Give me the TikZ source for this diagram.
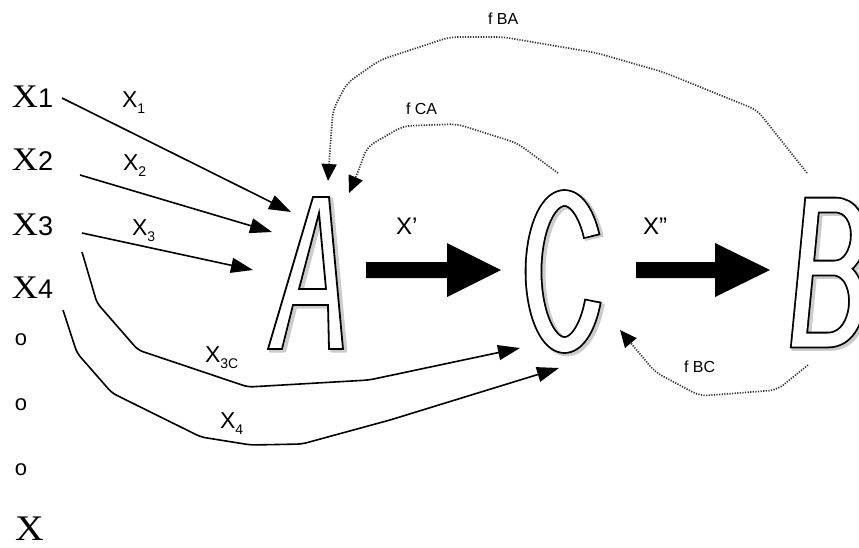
\documentclass[tikz,border=0pt]{standalone}
\usepackage{fontspec}
\setmainfont{Liberation Sans}
\newfontfamily\serifX[FakeStretch=1.1]{Liberation Serif}
\usetikzlibrary{arrows.meta,calc}
\newcommand\bigXlbl[1]{{\fontsize{33pt}{33pt}\selectfont\serifX X}{\fontsize{27pt}{27pt}\selectfont #1}}
\newcommand\subXlbl[1]{X\raisebox{-6pt}{\fontsize{14pt}{14pt}\selectfont #1}}
\begin{document}
\begin{tikzpicture}[x=1pt,y=-1pt,
  every node/.style={inner sep=0pt,outer sep=0pt},
  lbl/.style={anchor=base west,font=\fontsize{23pt}{23pt}\selectfont},
  plbl/.style={anchor=base west,font=\fontsize{24pt}{24pt}\selectfont},
  flbl/.style={anchor=base west,font=\fontsize{16pt}{16pt}\selectfont},
  bigl/.style={anchor=base west},
  dotl/.style={anchor=center,font=\fontsize{22pt}{22pt}\selectfont},
  arr/.style={line width=1.6pt,line join=round,rounded corners=5pt,-{Triangle[length=22pt,width=15pt]}},
  fb/.style={black!80,line width=1.7pt,dash pattern=on 1.2pt off 1.4pt,rounded corners=8pt,-{Triangle[length=17pt,width=15pt,color=black,fill=black]}},
  shad/.style={gray!40,line join=round},
  outl/.style={line width=1.8pt,line join=miter},
]
\useasboundingbox (0,0) rectangle (859,547);

% ---------- left labels
\node[bigl] (x1) at (12,107) {\bigXlbl{1}};
\node[bigl] (x2) at (12,170) {\bigXlbl{2}};
\node[bigl] (x3) at (12,235) {\bigXlbl{3}};
\node[bigl] (x4) at (12,298) {\bigXlbl{4}};
\node[dotl] (d1) at (21,340) {o};
\node[dotl] (d2) at (21,405) {o};
\node[dotl] (d3) at (21,470) {o};
\node[bigl] (xn) at (15,540) {\fontsize{36pt}{36pt}\selectfont\serifX X};

% ---------- letter geometry
\coordinate (Cc) at (564.5,271.5);

% shadows
\begin{scope}[shift={(2.5,1.8)}]
  \draw[shad,line width=3.5pt] (268,349) -- (313,197) -- (329,197) -- (343,349) -- (329,349) -- (328,305) -- (293,305) -- (282,349) -- cycle
        (319,213) -- (326,289) -- (299,289) -- cycle;
  \draw[shad,line width=19pt] plot[domain=28:337,samples=90,variable=\t] ({564.5+31*cos(\t)},{271.5-73.5*sin(\t)});
  \draw[shad,line width=18pt,line join=miter] (806,268) -- (812,205) -- (835,205) .. controls (868,205) and (864,268) .. (835,268) -- (806,268) -- (799,340) -- (828,340) .. controls (864,340) and (866,268) .. (833,268);
\end{scope}

% A
\draw[outl,fill=white,even odd rule] (268,349) -- (313,197) -- (329,197) -- (343,349) -- (329,349) -- (328,305) -- (293,305) -- (282,349) -- cycle
      (319,213) -- (326,289) -- (299,289) -- cycle;
\node (A) at (305,273) {};
% C
\draw[line width=17.6pt] plot[domain=28:337,samples=90,variable=\t] ({564.5+31*cos(\t)},{271.5-73.5*sin(\t)});
\draw[white,line width=14pt] plot[domain=29.5:335.5,samples=90,variable=\t] ({564.5+31*cos(\t)},{271.5-73.5*sin(\t)});
\node (C) at (Cc) {};
% B
\draw[line width=16.6pt,line join=miter] (806,268) -- (812,205) -- (835,205) .. controls (868,205) and (864,268) .. (835,268) -- (806,268) -- (799,340) -- (828,340) .. controls (864,340) and (866,268) .. (833,268);
\draw[white,line width=13pt,line join=miter] (806,268) -- (812,205) -- (835,205) .. controls (868,205) and (864,268) .. (835,268) -- (806,268) -- (799,340) -- (828,340) .. controls (864,340) and (866,268) .. (833,268);
\node (B) at (825,273) {};

% ---------- block arrows
\coordinate (acS) at (366,270); \coordinate (acE) at (501,270);
\coordinate (cbS) at (636,270); \coordinate (cbE) at (770,270);
\fill ($(acS)+(0,-8)$) -- ($(acE)+(-54,-8)$) -- ($(acE)+(-54,-27)$) -- (acE) -- ($(acE)+(-54,27)$) -- ($(acE)+(-54,8)$) -- ($(acS)+(0,8)$) -- cycle;
\fill ($(cbS)+(0,-8)$) -- ($(cbE)+(-55,-8)$) -- ($(cbE)+(-55,-27)$) -- (cbE) -- ($(cbE)+(-55,27)$) -- ($(cbE)+(-55,8)$) -- ($(cbS)+(0,8)$) -- cycle;
\node[plbl] (lp) at (396,234) {X'};
\node[plbl] (lpp) at (643,234) {X''};

% ---------- input arrows
\coordinate (s1) at (62,98);  \coordinate (e1) at (291,212);
\coordinate (s2) at (80,175); \coordinate (e2) at (272,232);
\coordinate (s3) at (82,233); \coordinate (e3) at (253,270);
\coordinate (s3c) at (82,252); \coordinate (e3c) at (520,348);
\coordinate (s4) at (63,310); \coordinate (e4) at (559,368);
\draw[arr] (s1) -- (e1);
\draw[arr] (s2) -- (e2);
\draw[arr] (s3) -- (e3);
\draw[arr] (s3c) -- (97,303) -- (138,350) -- (248,387) -- (369,380) -- (e3c);
\draw[arr] (s4) -- (77,353) -- (112,393) -- (201,437) -- (251,445) -- (302,444) -- (390,420) -- (e4);
\node[lbl] (l1) at (122,107) {\subXlbl{1}};
\node[lbl] (l2) at (123,170) {\subXlbl{2}};
\node[lbl] (l3) at (132,235) {\subXlbl{3}};
\node[lbl] (l3c) at (205,362) {\subXlbl{3C}};
\node[lbl] (l4) at (220,428) {\subXlbl{4}};

% ---------- feedback arrows
\coordinate (fbaS) at (807,173); \coordinate (fbaE) at (328,181);
\coordinate (fcaS) at (558,173); \coordinate (fcaE) at (349,193);
\coordinate (fbcS) at (808,365); \coordinate (fbcE) at (620,330);
\draw[fb] (fbaS) -- (757,110) -- (663,72) -- (597,53) -- (503,37) -- (450,37) -- (380,60) -- (347,83) -- (333,110) -- (330,150) -- (fbaE);
\draw[fb] (fcaS) -- (517,143) -- (457,124) -- (403,126) -- (367,147) -- (358,172) -- (fcaE);
\draw[fb] (fbcS) -- (777,390) -- (700,396) -- (655,372) -- (fbcE);
\node[flbl] (lba) at (488,24) {f BA};
\node[flbl] (lca) at (406,114) {f CA};
\node[flbl] (lbc) at (684,372) {f BC};
\end{tikzpicture}
\end{document}
